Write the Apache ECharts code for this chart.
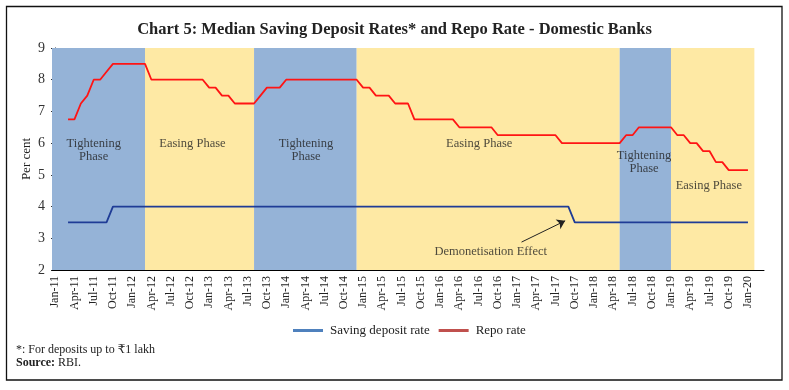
<!DOCTYPE html>
<html>
<head>
<meta charset="utf-8">
<script src="https://cdn.jsdelivr.net/npm/echarts@6/dist/echarts.min.js"></script>
<style>
html,body{margin:0;padding:0;background:#fff;}
#chart{width:789px;height:390px;}
</style>
</head>
<body>
<div id="chart"></div>
<script>
// ---- Data ----
const monthNames = ['Jan','Feb','Mar','Apr','May','Jun','Jul','Aug','Sep','Oct','Nov','Dec'];
const firstYear = 11, lastYear = 20, lastMonthOfLastYear = 3; // axis runs Jan-11 .. Mar-20
const categories = [];
for (let y = firstYear; y <= lastYear; y++) {
  for (let m = 0; m < 12; m++) {
    if (y === lastYear && m >= lastMonthOfLastYear) break;
    categories.push(monthNames[m] + '-' + y);
  }
}
const dataStart = 'Mar-11'; // first month with observations

// Repo rate, Mar-11 .. Jan-20
const repoRate = [
  6.75,6.75,7.25,7.5,8.0,8.0,8.25,8.5,8.5,8.5,                 // 2011 Mar-Dec
  8.5,8.5,8.5,8.0,8.0,8.0,8.0,8.0,8.0,8.0,8.0,8.0,             // 2012
  7.75,7.75,7.5,7.5,7.25,7.25,7.25,7.25,7.5,7.75,7.75,7.75,    // 2013
  8.0,8.0,8.0,8.0,8.0,8.0,8.0,8.0,8.0,8.0,8.0,8.0,             // 2014
  7.75,7.75,7.5,7.5,7.5,7.25,7.25,7.25,6.75,6.75,6.75,6.75,    // 2015
  6.75,6.75,6.75,6.5,6.5,6.5,6.5,6.5,6.5,6.25,6.25,6.25,       // 2016
  6.25,6.25,6.25,6.25,6.25,6.25,6.25,6.0,6.0,6.0,6.0,6.0,      // 2017
  6.0,6.0,6.0,6.0,6.0,6.25,6.25,6.5,6.5,6.5,6.5,6.5,           // 2018
  6.5,6.25,6.25,6.0,6.0,5.75,5.75,5.4,5.4,5.15,5.15,5.15,      // 2019
  5.15                                                         // 2020 Jan
];
// Median saving deposit rate, Mar-11 .. Jan-20
const savingRate = [
  3.5,3.5,3.5,3.5,3.5,3.5,3.5,4.0,4.0,4.0,                     // 2011 Mar-Dec
  4,4,4,4,4,4,4,4,4,4,4,4,                                     // 2012
  4,4,4,4,4,4,4,4,4,4,4,4,                                     // 2013
  4,4,4,4,4,4,4,4,4,4,4,4,                                     // 2014
  4,4,4,4,4,4,4,4,4,4,4,4,                                     // 2015
  4,4,4,4,4,4,4,4,4,4,4,4,                                     // 2016
  4,4,4,4,4,4,4,4,4,3.5,3.5,3.5,                               // 2017
  3.5,3.5,3.5,3.5,3.5,3.5,3.5,3.5,3.5,3.5,3.5,3.5,             // 2018
  3.5,3.5,3.5,3.5,3.5,3.5,3.5,3.5,3.5,3.5,3.5,3.5,             // 2019
  3.5                                                          // 2020 Jan
];
// Policy phases: boundary months and phase kinds
const phaseEdges = ['Jan-11','Mar-12','Aug-13','Dec-14','May-18','Jan-19','Feb-20'];
const phaseKinds = ['tight','ease','tight','ease','tight','ease'];
// Phase / annotation label anchors [month position, per cent, text]
const phaseLabels = [
  [6.0, 5.78, 'Tightening\nPhase'],
  [21.4, 5.97, 'Easing Phase'],
  [39.1, 5.78, 'Tightening\nPhase'],
  [66.1, 5.97, 'Easing Phase'],
  [91.8, 5.40, 'Tightening\nPhase'],
  [101.9, 4.67, 'Easing Phase'],
  [67.9, 2.58, 'Demonetisation Effect']
];
const arrowFrom = [72.7, 2.88];
const arrowTo = [79.5, 3.55];
const yTicks = {min: 2, max: 9, interval: 1};

// ---- Build ----
const startIdx = categories.indexOf(dataStart);
const pad = (arr) => categories.map((c, i) => {
  const k = i - startIdx;
  return (k >= 0 && k < arr.length) ? arr[k] : null;
});
const phaseColors = {tight: '#95b3d7', ease: '#fee9a4'};
const areas = phaseKinds.map((kind, i) => {
  let a = categories.indexOf(phaseEdges[i]);
  let b = categories.indexOf(phaseEdges[i + 1]);
  if (a === 0) a = -0.5;
  return [{xAxis: a, itemStyle: {color: phaseColors[kind]}}, {xAxis: b}];
});

const FONT = '"Liberation Serif", "DejaVu Serif", serif';
const chart = echarts.init(document.getElementById('chart'), null, {renderer: 'canvas'});
chart.setOption({
  backgroundColor: '#fff',
  animation: false,
  title: {
    text: 'Chart 5: Median Saving Deposit Rates* and Repo Rate - Domestic Banks',
    left: 'center', top: 16,
    textStyle: {fontFamily: FONT, fontSize: 16.5, fontWeight: 'bold', color: '#222'}
  },
  legend: {
    left: 288, top: 319,
    itemWidth: 30, itemHeight: 3, itemGap: 9,
    textStyle: {fontFamily: FONT, fontSize: 13, color: '#222', padding: [0, 0, 0, 2]},
    data: [
      {name: 'Saving deposit rate', icon: 'rect', itemStyle: {color: '#4f81bd'}},
      {name: 'Repo rate', icon: 'rect', itemStyle: {color: '#c0504d'}}
    ]
  },
  grid: {left: 52, right: 25, top: 48, bottom: 120, containLabel: false},
  xAxis: [
    {
      type: 'category', data: categories, boundaryGap: true,
      axisLine: {lineStyle: {color: '#000', width: 1}},
      axisTick: {interval: 2, length: 5, lineStyle: {color: '#000'}},
      axisLabel: {interval: 2, rotate: 90, margin: 6, fontFamily: FONT, fontSize: 12, color: '#222'}
    },
    {type: 'value', min: -0.5, max: categories.length - 0.5, show: false}
  ],
  yAxis: {
    type: 'value', min: yTicks.min, max: yTicks.max, interval: yTicks.interval,
    splitLine: {show: false},
    axisLine: {show: true, lineStyle: {color: '#000'}},
    axisTick: {show: true, length: 4, lineStyle: {color: '#000'}},
    axisLabel: {fontFamily: FONT, fontSize: 14, color: '#333', margin: 7}
  },
  graphic: [
    {type: 'rect', shape: {x: 6.5, y: 6.5, width: 775.5, height: 373.5},
     style: {fill: null, stroke: '#111', lineWidth: 1.3}, silent: true},
    {type: 'text', x: 27, y: 159, rotation: Math.PI / 2, silent: true,
     style: {text: 'Per cent', font: '13px ' + FONT, fill: '#222', align: 'center', verticalAlign: 'middle'}},
    {type: 'text', left: 16, top: 344,
     style: {text: '*: For deposits up to \u20B91 lakh', font: '12px ' + FONT, fill: '#222'}},
    {type: 'text', left: 16, top: 357,
     style: {text: '{b|Source:} RBI.', font: '12px ' + FONT, fill: '#222',
             rich: {b: {fontWeight: 'bold', fontFamily: FONT, fontSize: 12, fill: '#222'}}}}
  ],
  series: [
    {
      name: 'phases', type: 'line', xAxisIndex: 1, z: 0, silent: true,
      data: [[-0.5, yTicks.min]], showSymbol: false, lineStyle: {width: 0},
      markArea: {silent: true, data: areas},
      markLine: {
        silent: true, symbol: ['none', 'arrow'], symbolSize: 8,
        lineStyle: {color: '#222', width: 1, type: 'solid'},
        label: {show: false},
        data: [[{coord: arrowFrom}, {coord: arrowTo}]]
      }
    },
    {
      name: 'Saving deposit rate', type: 'line', data: pad(savingRate), z: 3,
      showSymbol: false, symbol: 'none', connectNulls: false,
      lineStyle: {color: '#1f3c96', width: 1.8}, itemStyle: {color: '#4f81bd'}
    },
    {
      name: 'Repo rate', type: 'line', data: pad(repoRate), z: 3,
      showSymbol: false, symbol: 'none', connectNulls: false,
      lineStyle: {color: '#ff1414', width: 1.8}, itemStyle: {color: '#c0504d'}
    },
    {
      name: 'labels', type: 'scatter', xAxisIndex: 1, z: 4, silent: true,
      symbolSize: 1, itemStyle: {color: 'rgba(0,0,0,0)'},
      data: phaseLabels,
      label: {
        show: true, position: 'inside', formatter: (p) => p.value[2],
        fontFamily: FONT, fontSize: 12.5, lineHeight: 13, color: '#222', align: 'center'
      }
    }
  ]
});
</script>
</body>
</html>
